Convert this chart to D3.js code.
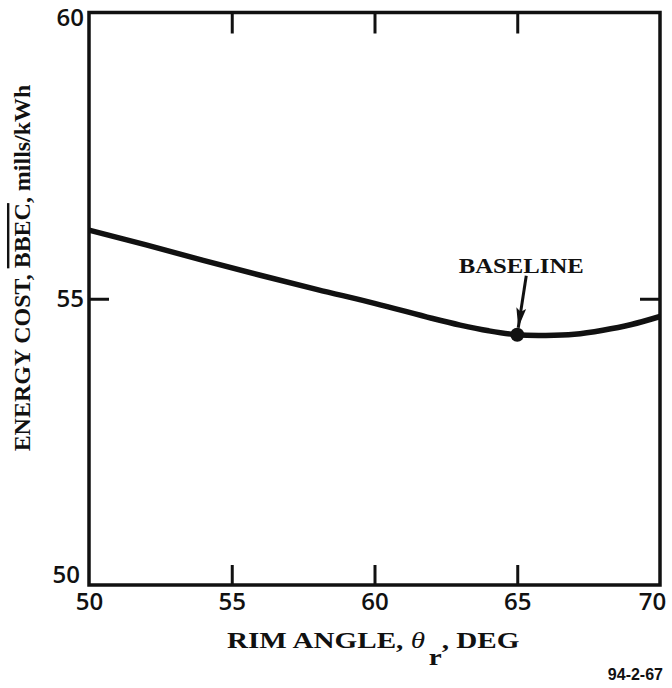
<!DOCTYPE html>
<html>
<head>
<meta charset="utf-8">
<script src="https://cdn.jsdelivr.net/npm/d3@7"></script>
<style>
  html, body { margin: 0; padding: 0; background: #fff; }
  svg { display: block; }
  .tick text { font-family: "Open Sans", "Liberation Sans", Arial, sans-serif; font-weight: 600; font-size: 24px; fill: #111; }
  .slab { font-family: "Liberation Serif", serif; font-weight: bold; fill: #111; }
</style>
</head>
<body>
<script>
// Rim angle (deg) vs. levelized energy cost (mills/kWh)
const rimAngle = [50, 52, 54, 56, 58, 60, 62, 63, 64, 65, 66, 67, 68, 69, 70];
const energyCost = [56.20, 55.94, 55.67, 55.41, 55.16, 54.92, 54.66, 54.54, 54.44, 54.37, 54.36, 54.38, 54.45, 54.55, 54.69];

// Baseline design point
const baselineAngle = [65];
const baselineCost = [54.37];

const xTicks = [50, 55, 60, 65, 70];
const yTicks = [50, 55, 60];

const W = 672, H = 688;
const margin = { top: 12.5, right: 12, bottom: 103, left: 89 };
const iw = W - margin.left - margin.right;
const ih = H - margin.top - margin.bottom;

const svg = d3.select("body").append("svg").attr("width", W).attr("height", H);
const g = svg.append("g").attr("transform", `translate(${margin.left},${margin.top})`);

const x = d3.scaleLinear().domain([50, 70]).range([0, iw]);
const y = d3.scaleLinear().domain([50, 60]).range([ih, 0]);

// Bottom axis: labels at every tick, inward tick marks only at interior values
const axBottom = g.append("g").attr("transform", `translate(0,${ih})`)
  .call(d3.axisBottom(x).tickValues(xTicks).tickSizeInner(-20).tickSizeOuter(0).tickPadding(8));
axBottom.select(".domain").remove();
axBottom.selectAll(".tick").filter(d => d === 50 || d === 70).select("line").remove();
axBottom.selectAll(".tick").filter(d => d === 70).select("text").attr("dx", -8);

// Top axis: tick marks only
const axTop = g.append("g")
  .call(d3.axisTop(x).tickValues(xTicks.slice(1, -1)).tickSizeInner(-21).tickSizeOuter(0).tickFormat(""));
axTop.select(".domain").remove();

// Left axis
const axLeft = g.append("g")
  .call(d3.axisLeft(y).tickValues(yTicks).tickSizeInner(-20).tickSizeOuter(0).tickPadding(5));
axLeft.select(".domain").remove();
axLeft.selectAll(".tick").filter(d => d === 50 || d === 60).select("line").remove();
axLeft.selectAll(".tick").filter(d => d === 60).select("text").attr("dy", "0.56em");
axLeft.selectAll(".tick").filter(d => d === 50).select("text").attr("dy", "-0.1em").attr("dx", -4);

// Right axis: tick mark only
const axRight = g.append("g").attr("transform", `translate(${iw},0)`)
  .call(d3.axisRight(y).tickValues(yTicks.slice(1, -1)).tickSizeInner(-20).tickSizeOuter(0).tickFormat(""));
axRight.select(".domain").remove();

g.selectAll(".tick line").attr("stroke", "#111").attr("stroke-width", 3);

// Plot frame
g.append("rect")
  .attr("x", 0).attr("y", 0).attr("width", iw).attr("height", ih)
  .attr("fill", "none").attr("stroke", "#111").attr("stroke-width", 3.5);

// Cost curve
const line = d3.line()
  .x((d, i) => x(rimAngle[i]))
  .y(d => y(d))
  .curve(d3.curveCatmullRom.alpha(0.5));

g.append("path")
  .datum(energyCost)
  .attr("d", line)
  .attr("fill", "none")
  .attr("stroke", "#111")
  .attr("stroke-width", 5.5)
  .attr("stroke-linejoin", "round")
  .attr("stroke-linecap", "butt");

// Baseline marker
const bx = x(baselineAngle[0]), by = y(baselineCost[0]);
g.append("circle").attr("cx", bx).attr("cy", by).attr("r", 7).attr("fill", "#111");

// Arrow pointing at the baseline point
svg.append("defs").append("marker")
  .attr("id", "head")
  .attr("viewBox", "0 0 20 10")
  .attr("refX", 20).attr("refY", 5)
  .attr("markerWidth", 20).attr("markerHeight", 10)
  .attr("markerUnits", "userSpaceOnUse")
  .attr("orient", "auto")
  .append("path").attr("d", "M0,0 L20,5 L0,10 L4,5 Z").attr("fill", "#111");

g.append("line")
  .attr("x1", bx + 9).attr("y1", by - 59)
  .attr("x2", bx + 1).attr("y2", by - 7)
  .attr("stroke", "#111").attr("stroke-width", 3)
  .attr("marker-end", "url(#head)");

// Fit a text element horizontally into a given span by scaling along its own x axis
function fitWidth(sel, target, tx, ty, rot) {
  const len = sel.node().getComputedTextLength();
  const k = target / len;
  sel.attr("transform", `translate(${tx},${ty}) rotate(${rot}) scale(${k},1)`);
}

const bl = g.append("text")
  .attr("class", "slab")
  .attr("text-anchor", "middle")
  .attr("font-size", 22)
  .text("BASELINE");
fitWidth(bl, 125, bx + 4, by - 62, 0);

// X axis title
const xt = svg.append("text")
  .attr("class", "slab")
  .attr("text-anchor", "start")
  .attr("font-size", 23);
xt.append("tspan").text("RIM ANGLE, ");
xt.append("tspan").attr("font-style", "italic").attr("font-weight", "normal").text("θ");
xt.append("tspan").attr("dy", 17).attr("dx", 3).text("r");
xt.append("tspan").attr("dy", -17).text(", DEG");
fitWidth(xt, 286, 227, 648, 0);

// Y axis title
const yt = svg.append("text")
  .attr("class", "slab")
  .attr("text-anchor", "middle")
  .attr("font-size", 24);
yt.append("tspan").text("ENERGY COST, ");
yt.append("tspan").style("text-decoration", "overline").text("BBEC");
yt.append("tspan").text(", mills/kWh");
fitWidth(yt, 367, 30, 268, -90);

// Figure number
svg.append("text")
  .attr("x", 663).attr("y", 680)
  .attr("text-anchor", "end")
  .attr("font-family", "Liberation Sans, Arial, sans-serif")
  .attr("font-weight", "bold")
  .attr("font-size", 16)
  .attr("fill", "#111")
  .text("94-2-67");
</script>
</body>
</html>
